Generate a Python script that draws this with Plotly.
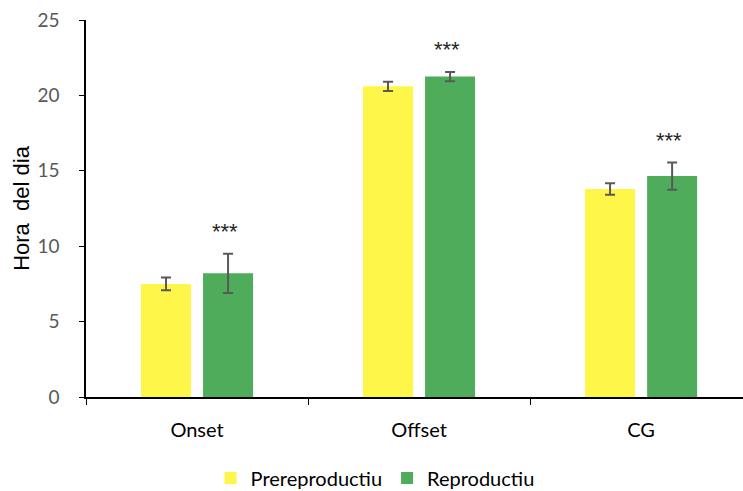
import plotly.graph_objects as go

categories = ["Onset", "Offset", "CG"]
prerep = [7.5, 20.6, 13.8]
prerep_err = [0.42, 0.3, 0.38]
rep = [8.2, 21.25, 14.65]
rep_err = [1.3, 0.31, 0.9]
sig = ["***", "***", "***"]

FONT = "Lato"
GREY = "#595959"

fig = go.Figure()
fig.add_trace(go.Bar(
    x=categories, y=prerep, name="Prereproductiu",
    marker=dict(color="#FFF64A", line=dict(width=0)),
    error_y=dict(type="data", array=prerep_err, color=GREY, thickness=2, width=5),
))
fig.add_trace(go.Bar(
    x=categories, y=rep, name="Reproductiu",
    marker=dict(color="#4EAC5B", line=dict(width=0)),
    error_y=dict(type="data", array=rep_err, color=GREY, thickness=2, width=5),
))

for i, c in enumerate(categories):
    fig.add_annotation(
        x=c, y=rep[i] + rep_err[i], text=sig[i], showarrow=False,
        xshift=28, yanchor="middle", yshift=22,
        font=dict(family="Liberation Sans", size=22, color="#262626"),
    )

fig.update_layout(
    width=743, height=491,
    margin=dict(l=86, r=0, t=20, b=94, autoexpand=False),
    paper_bgcolor="white", plot_bgcolor="white",
    barmode="group", bargap=0.441, bargroupgap=0.194,
    font=dict(family=FONT, size=16, color="black"),
    showlegend=True,
    legend=dict(orientation="h", x=0.44, xanchor="center", y=-0.215, yanchor="middle",
                font=dict(family=FONT, size=20, color="black"), itemwidth=30,
                traceorder="normal"),
    xaxis=dict(range=[-0.5, 2.459], showline=True, linecolor="black", linewidth=1.5,
               ticks="outside", tickson="boundaries", ticklen=6, tickcolor="black",
               ticklabelstandoff=14, automargin=False,
               tickfont=dict(family=FONT, size=20, color="black"), showgrid=False),
    yaxis=dict(range=[0, 25], dtick=5, showline=True, linecolor="black", linewidth=1.5,
               ticks="outside", ticklen=5, tickcolor="black", showgrid=False,
               zeroline=False, ticklabelstandoff=16, automargin=False,
               tickfont=dict(family=FONT, size=19, color=GREY),
               title=dict(text="Hora  del dia",
                          font=dict(family="Liberation Sans", size=22, color="black"),
                          standoff=2)),
)

fig.write_html("out.html")
